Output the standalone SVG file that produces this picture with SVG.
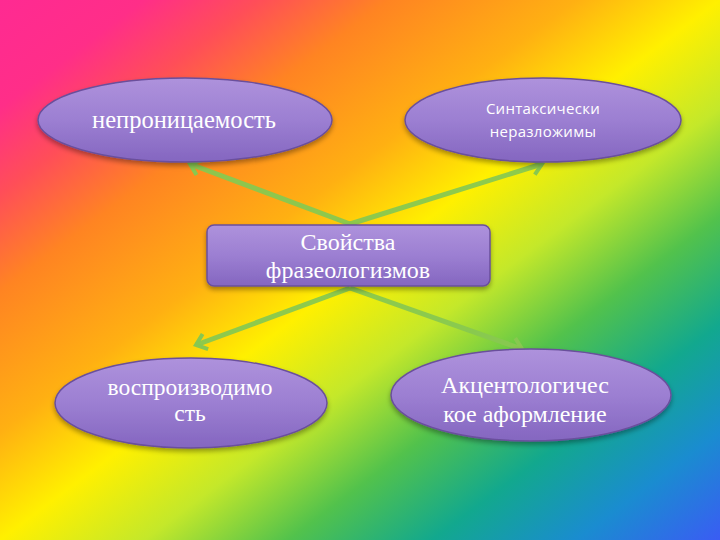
<svg xmlns="http://www.w3.org/2000/svg" width="720" height="540" viewBox="0 0 720 540">
  <defs>
    <linearGradient id="bg" x1="0" y1="0" x2="1" y2="1">
      <stop offset="0" stop-color="#ff2a92"/>
      <stop offset="0.1" stop-color="#ff2e88"/>
      <stop offset="0.18" stop-color="#ff4e58"/>
      <stop offset="0.27" stop-color="#ff8422"/>
      <stop offset="0.4" stop-color="#ffb012"/>
      <stop offset="0.5" stop-color="#fff000"/>
      <stop offset="0.6" stop-color="#c4e82a"/>
      <stop offset="0.7" stop-color="#52c24c"/>
      <stop offset="0.8" stop-color="#12a88e"/>
      <stop offset="0.9" stop-color="#1a8cd0"/>
      <stop offset="1" stop-color="#3a5cf4"/>
    </linearGradient>
    <linearGradient id="purple" x1="0" y1="0" x2="0" y2="1">
      <stop offset="0" stop-color="#ae92dc"/>
      <stop offset="0.5" stop-color="#9c7fd2"/>
      <stop offset="1" stop-color="#8466c0"/>
    </linearGradient>
    <filter id="shadow" x="-10%" y="-20%" width="120%" height="150%">
      <feDropShadow dx="0" dy="3" stdDeviation="2.5" flood-color="#000" flood-opacity="0.35"/>
    </filter>
    <marker id="head" viewBox="-12 -10 16 20" refX="0" refY="0" markerWidth="16" markerHeight="20" markerUnits="userSpaceOnUse" orient="auto">
      <path d="M -10 -8 L 0 0 L -10 8" fill="none" stroke="#88c850" stroke-width="4" stroke-linejoin="miter"/>
    </marker>
    <style>
      .node { fill: url(#purple); stroke: #6a4f9c; stroke-width: 1.5; filter: url(#shadow); }
      .serif { font-family: "Liberation Serif", "DejaVu Serif", serif; fill: #ffffff; text-anchor: middle; }
      .sans { font-family: "Open Sans", "Liberation Sans", sans-serif; fill: #ffffff; text-anchor: middle; }
      .conn { stroke: #88c850; stroke-width: 5; fill: none; stroke-opacity: 0.95; marker-end: url(#head); }
    </style>
  </defs>

  <rect x="0" y="0" width="720" height="540" fill="url(#bg)"/>

  <g id="connectors">
    <line class="conn" x1="350" y1="224" x2="190" y2="164"/>
    <line class="conn" x1="350" y1="224" x2="542" y2="164"/>
    <line class="conn" x1="350" y1="288" x2="196" y2="345"/>
    <line class="conn" x1="350" y1="288" x2="522" y2="349"/>
  </g>

  <g id="node-nepronitsaemost">
    <ellipse class="node" cx="185" cy="120" rx="147" ry="42"/>
    <text class="serif" x="184" y="128" font-size="24.5">непроницаемость</text>
  </g>

  <g id="node-sintaksicheski">
    <ellipse class="node" cx="543" cy="120" rx="138" ry="42"/>
    <text class="sans" x="543" y="114" font-size="15" letter-spacing="0.3">Синтаксически</text>
    <text class="sans" x="543" y="137" font-size="15" letter-spacing="0.3">неразложимы</text>
  </g>

  <g id="node-center">
    <rect class="node" x="207" y="225" width="283" height="61" rx="7" ry="7"/>
    <text class="serif" x="348" y="250" font-size="24">Свойства</text>
    <text class="serif" x="348" y="278" font-size="24">фразеологизмов</text>
  </g>

  <g id="node-vosproizvodimost">
    <ellipse class="node" cx="191" cy="403" rx="136" ry="45"/>
    <text class="serif" x="190" y="395" font-size="23.5">воспроизводимо</text>
    <text class="serif" x="190" y="421" font-size="23.5">сть</text>
  </g>

  <g id="node-aktsentolog">
    <ellipse class="node" cx="531" cy="395" rx="140" ry="46"/>
    <text class="serif" x="525" y="393" font-size="24">Акцентологичес</text>
    <text class="serif" x="525" y="422" font-size="24">кое аформление</text>
  </g>
</svg>
